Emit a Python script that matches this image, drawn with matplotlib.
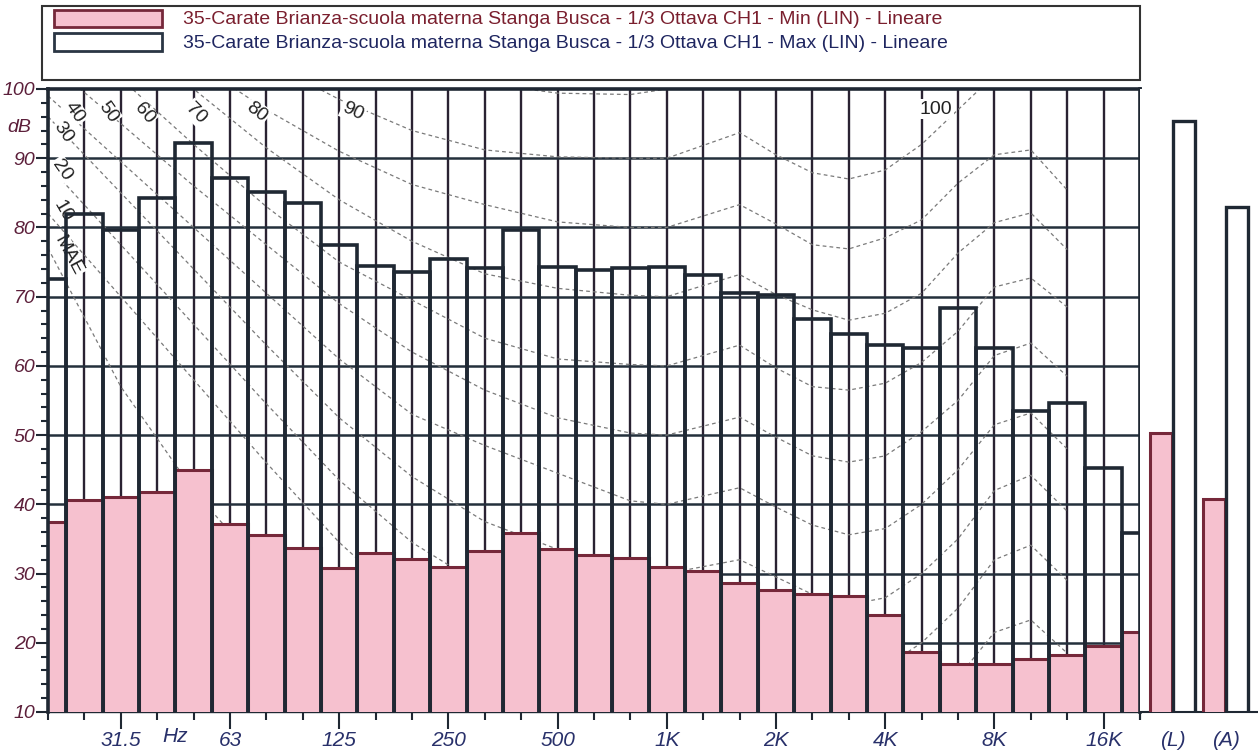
import numpy as np
import matplotlib.pyplot as plt
from matplotlib.patches import Rectangle

plt.rcParams['font.family'] = ['Liberation Sans', 'DejaVu Sans']

# 1/3 octave bands
bands = ['20', '25', '31.5', '40', '50', '63', '80', '100', '125', '160', '200',
         '250', '315', '400', '500', '630', '800', '1K', '1.25K', '1.6K', '2K',
         '2.5K', '3.15K', '4K', '5K', '6.3K', '8K', '10K', '12.5K', '16K', '20K']
min_db = [37.4, 40.6, 41.1, 41.8, 45.0, 37.1, 35.5, 33.7, 30.8, 32.9, 32.1,
          30.9, 33.3, 35.9, 33.5, 32.7, 32.2, 31.0, 30.3, 28.6, 27.6,
          27.1, 26.8, 24.0, 18.6, 17.0, 17.0, 17.6, 18.3, 19.6, 21.5]
max_db = [72.6, 81.9, 79.7, 84.2, 92.2, 87.1, 85.1, 83.5, 77.4, 74.5, 73.6,
          75.4, 74.2, 79.7, 74.3, 73.9, 74.1, 74.3, 73.1, 70.5, 70.3,
          66.8, 64.6, 63.0, 62.6, 68.4, 62.6, 53.5, 54.6, 45.3, 35.9]
tick_bands = ['31.5', '63', '125', '250', '500', '1K', '2K', '4K', '8K', '16K']

# totals panel
tot_labels = ['(L)', '(A)']
tot_min = [50.3, 40.8]
tot_max = [95.4, 83.0]

# equal loudness curves (band index of each vertex, dB)
curve_pos = [0, 2, 4, 6, 8, 10, 12, 14, 16, 17, 19, 20, 21, 22, 23, 24, 25, 26, 27, 28]
phon_mae = [77, 57, 42, 30, 21, 13.5, 8, 5, 4.2, 4, 2, 0, -2, -4, -4, -2, 2, 9, 13, 10]
phon_10 = [82, 70, 58, 46, 34.5, 25, 18, 13.5, 10.5, 10, 12, 9.5, 7, 5.5, 6.5, 10, 15, 21.5, 23.3, 18.5]
phon_20 = [89, 77.5, 66, 54.5, 43.5, 34.5, 28, 23.5, 20.5, 20, 22, 19.5, 17, 15.5, 16.5, 20, 25, 32, 34.1, 29]
phon_30 = [96, 85, 74, 63, 52.5, 44, 37.5, 33.5, 30.5, 30, 32, 29.5, 27, 25.5, 26.5, 30, 35, 42, 44.2, 39]
phon_40 = [99, 89.5, 80, 70.5, 61, 53, 48.5, 44.5, 40.5, 40, 42.4, 39.6, 37, 35.6, 36.5, 40, 45, 51.5, 53.2, 48]
phon_50 = [104, 95, 86, 77.5, 69, 62, 56.5, 52.5, 50.3, 50, 52.6, 49.7, 47, 46.1, 47, 50.5, 55, 61.5, 63.3, 58.5]
phon_60 = [110, 101.5, 92, 83, 75, 69.5, 64, 61, 60.2, 60, 63, 59.7, 57, 56.5, 57.5, 60.5, 65, 71.4, 72.7, 68.5]
phon_70 = [116, 108, 100, 91.5, 84, 78, 73.3, 71.2, 70.2, 70, 73.2, 70.3, 68.1, 66.6, 67.6, 70.5, 76.3, 80.7, 82.1, 76.8]
phon_80 = [120, 112, 104, 97, 91, 86.2, 83.3, 80.8, 80, 80, 83.3, 80.5, 77.5, 76.9, 78.5, 81.1, 86.4, 90.5, 91.2, 85.4]
phon_90 = [128, 119, 111, 104, 98.5, 94, 91.2, 90.2, 90, 90, 93.7, 90.5, 87.9, 87, 88.3, 92, 97, 102, 104, 100]
phon_100 = [136, 127, 119, 112, 107, 103, 100.8, 99.4, 99.2, 100, 103.5, 101, 100.2, 100.2, 101, 104, 109, 114, 116, 112]
curves = [phon_mae, phon_10, phon_20, phon_30, phon_40, phon_50, phon_60,
          phon_70, phon_80, phon_90, phon_100]

# curve labels: text, band position, dB, rotation
curve_labels = [('40', 0.74, 96.6, -55), ('50', 1.65, 96.7, -55), ('60', 2.64, 96.5, -50),
                ('70', 4.07, 96.5, -45), ('80', 5.74, 96.7, -38), ('90', 8.38, 96.7, -25),
                ('100', 24.4, 97.1, 0), ('30', 0.41, 93.7, -55), ('20', 0.38, 88.3, -55),
                ('10', 0.41, 82.3, -60), ('MAE', 0.55, 76.0, -62)]

pink = '#f6c1cf'
maroon = '#76283a'
slate = '#1f2833'
ylab_col = '#5c1f3a'
xlab_col = '#28306a'

W, H = 1258, 754


def px_rect(x0, y0, x1, y1):
    return [x0 / W, 1 - y1 / H, (x1 - x0) / W, (y1 - y0) / H]


fig = plt.figure(figsize=(W / 100, H / 100), dpi=100)
ax = fig.add_axes(px_rect(48, 89, 1140, 712))
axr = fig.add_axes(px_rect(1140, 89, 1258, 712))

x = np.arange(len(bands))
ax.set_xlim(0, len(bands) - 1)
ax.set_ylim(10, 100)

# grid
for i in x:
    ax.axvline(i, color='#2a2232', lw=1.7, zorder=1)
for v in range(20, 100, 10):
    ax.axhline(v, color='#24303c', lw=1.8, zorder=1)

for c in curves:
    ax.plot(curve_pos, c, color='#7a7a7a', lw=0.9, ls=(0, (3, 2.5)), zorder=1.5)

for s, px, py, rot in curve_labels:
    ax.text(px, py, s, rotation=rot, ha='center', va='center', fontsize=14,
            color='#222222', zorder=2.5,
            bbox=dict(fc='white', ec='none', pad=1.0))

ax.bar(x, min_db, width=1, color=pink, edgecolor=maroon, lw=2.2, zorder=3)
ax.bar(x, max_db, width=1, fill=False, edgecolor=slate, lw=2.6, zorder=4)

for side in ['left', 'top', 'right']:
    ax.spines[side].set_linewidth(2.6)
    ax.spines[side].set_color(slate)
    ax.spines[side].set_zorder(5)
ax.spines['bottom'].set_linewidth(1.0)
ax.spines['bottom'].set_color(slate)

ax.set_yticks(range(10, 101, 10))
ax.set_yticklabels([str(v) for v in range(10, 101, 10)], fontstyle='italic',
                   fontsize=14, color=ylab_col)
ax.set_yticks(range(10, 101, 2), minor=True)
ax.tick_params(axis='y', which='major', length=9, width=1.5, pad=0, color=slate)
ax.tick_params(axis='y', which='minor', length=5, width=1.5, color=slate)

ax.set_xticks([bands.index(b) for b in tick_bands])
ax.set_xticklabels(tick_bands, fontstyle='italic', fontsize=15, color=xlab_col)
ax.set_xticks(x, minor=True)
ax.tick_params(axis='x', which='major', length=12, width=1.5, pad=2, color=slate)
ax.tick_params(axis='x', which='minor', length=6, width=1.5, color=slate)

ax.annotate('Hz', xy=(3.5, 0), xycoords=('data', 'axes fraction'),
            xytext=(0, -25), textcoords='offset pixels', ha='center', va='center',
            fontstyle='italic', fontsize=15, color=xlab_col)
ax.text(-0.78, 94.5, 'dB', ha='center', va='center', fontstyle='italic',
        fontsize=14, color=ylab_col, clip_on=False)

# totals panel
gx = np.array([1.1, 2.9])
axr.set_xlim(0, 4)
axr.set_ylim(10, 100)
axr.bar(gx - 0.4, tot_min, width=0.74, color=pink, edgecolor=maroon, lw=2.2, zorder=3)
axr.bar(gx + 0.4, tot_max, width=0.74, fill=False, edgecolor=slate, lw=2.4, zorder=4)
for side in ['left', 'top', 'right']:
    axr.spines[side].set_visible(False)
axr.spines['bottom'].set_linewidth(1.5)
axr.spines['bottom'].set_color(slate)
axr.set_yticks([])
axr.set_xticks(gx)
axr.set_xticklabels(tot_labels, fontstyle='italic', fontsize=15, color=xlab_col)
axr.set_xticks([0], minor=True)
axr.tick_params(axis='x', which='major', length=0, pad=14)
axr.tick_params(axis='x', which='minor', length=6, width=1.5, color=slate)

# legend block
axl = fig.add_axes([0, 0, 1, 1])
axl.set_xlim(0, W)
axl.set_ylim(H, 0)
axl.axis('off')
axl.add_patch(Rectangle((42, 6), 1098, 74, fill=False, ec='#333333', lw=1.5))
axl.add_patch(Rectangle((54, 10), 108, 17, fc=pink, ec=maroon, lw=2))
axl.add_patch(Rectangle((54, 33), 108, 18, fc='white', ec='#2a3644', lw=2))
base = '35-Carate Brianza-scuola materna Stanga Busca - 1/3 Ottava CH1 - '
axl.text(183, 19, base + 'Min (LIN) - Lineare', ha='left', va='center',
         fontsize=14, color='#7a1f2e')
axl.text(183, 43, base + 'Max (LIN) - Lineare', ha='left', va='center',
         fontsize=14, color='#1f2660')

fig.savefig('out.png', dpi=100)
